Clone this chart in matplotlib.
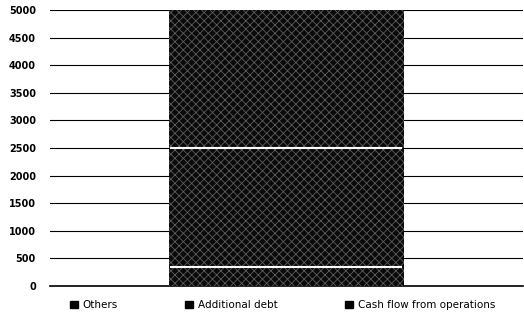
import matplotlib.pyplot as plt

# Stacked single column, bottom to top
series = ['Others', 'Additional debt', 'Cash flow from operations']
values = [350, 2150, 2500]
yticks = list(range(0, 5001, 500))

plt.rcParams['font.family'] = ['DejaVu Sans']
plt.rcParams['hatch.linewidth'] = 0.6

fig = plt.figure(figsize=(5.24, 3.26), dpi=100)
ax = fig.add_axes([0.095, 0.123, 0.903, 0.846])

bottom = 0
handles = []
for name, val in zip(series, values):
    ax.bar(0, val, bottom=bottom, width=0.994, color='#0a0a0a',
           hatch='xxxx', edgecolor='#5c5c5c', linewidth=0, zorder=3)
    # white seam at the top of the lower segments
    if bottom + val < sum(values):
        ax.hlines(bottom + val, -0.49, 0.49, color='white', lw=1.5, zorder=4)
    bottom += val
    handles.append(plt.Rectangle((0, 0), 1, 1, color='black'))

ax.set_xlim(-1, 1)
ax.set_ylim(0, 5000)
ax.set_yticks(yticks)
ax.set_yticklabels([str(t) for t in yticks], fontsize=7, fontweight='bold')
ax.set_xticks([])
ax.yaxis.grid(True, color='black', lw=0.8, zorder=0)
for s in ['left', 'right', 'top']:
    ax.spines[s].set_visible(False)
ax.spines['bottom'].set_linewidth(1.2)
ax.tick_params(axis='y', length=0, pad=10)

fig.legend(handles, series, loc='lower left', bbox_to_anchor=(0.115, 0.02),
           ncol=3, frameon=False, fontsize=7.5, handlelength=0.8, handleheight=0.8,
           handletextpad=0.4, columnspacing=6.5)

fig.savefig('out.png', dpi=100)
